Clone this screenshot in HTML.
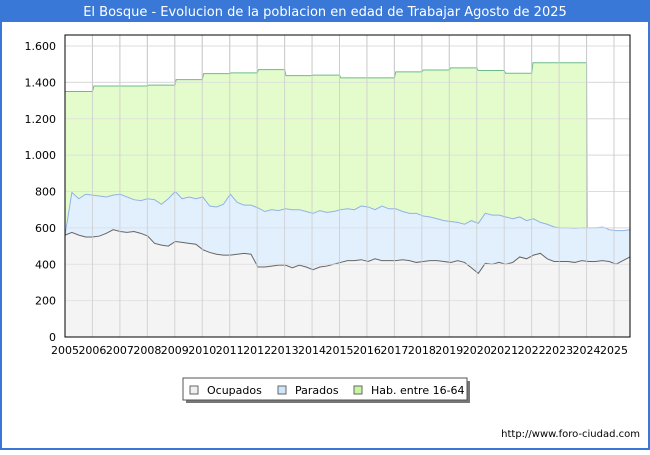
<!DOCTYPE html>
<html><head><meta charset="utf-8"><style>
body{margin:0;width:650px;height:450px;overflow:hidden;background:#fff;font-family:"Liberation Sans","DejaVu Sans",sans-serif}
svg text{font-family:"DejaVu Sans","Liberation Sans",sans-serif}
</style></head><body>
<svg id="c" width="650" height="450" xmlns="http://www.w3.org/2000/svg">
<rect x="0" y="0" width="650" height="450" fill="#3a78d8"/>
<rect x="2" y="22" width="646" height="426" fill="#fff"/>
<text x="325" y="16" fill="#fff" font-size="13" text-anchor="middle">El Bosque - Evolucion de la poblacion en edad de Trabajar Agosto de 2025</text>
<g id="grid"></g>
<g id="series"></g>
<g id="axes"></g>
<g>
<rect x="186" y="381" width="284" height="22" fill="#777"/>
<rect x="183" y="378" width="284" height="22" fill="#fff" stroke="#555"/>
<rect x="190" y="386" width="8" height="8" fill="#f0f0f0" stroke="#666"/>
<text x="207" y="394" font-size="11">Ocupados</text>
<rect x="278" y="386" width="8" height="8" fill="#cfe5fa" stroke="#666"/>
<text x="295" y="394" font-size="11">Parados</text>
<rect x="354" y="386" width="8" height="8" fill="#c8f5a0" stroke="#666"/>
<text x="371" y="394" font-size="11">Hab. entre 16-64</text>
</g>
<text x="640" y="437" font-size="10" text-anchor="end">http://www.foro-ciudad.com</text>
</svg>
<script>
const years=[2005,2006,2007,2008,2009,2010,2011,2012,2013,2014,2015,2016,2017,2018,2019,2020,2021,2022,2023,2024,2025];
const yTicks=[0,200,400,600,800,1000,1200,1400,1600];
const habYears=[2005,2006,2007,2008,2009,2010,2011,2012,2013,2014,2015,2016,2017,2018,2019,2020,2021,2022,2023];
const habValues=[1350,1380,1380,1385,1415,1448,1452,1470,1437,1440,1425,1425,1458,1468,1480,1465,1450,1508,1508];
const activos=[560,795,760,785,780,775,770,780,785,770,755,750,760,755,730,760,800,760,770,760,770,720,715,730,785,740,725,725,710,690,700,695,705,700,700,690,680,695,685,690,700,705,700,720,715,700,720,705,705,690,680,680,665,660,650,640,635,630,620,640,625,680,670,670,660,650,660,640,650,630,620,605,600,600,598,600,600,600,605,590,585,585,590];
const ocupados=[560,575,560,550,550,555,570,590,580,575,580,570,555,515,505,500,525,520,515,510,480,465,455,450,450,455,460,455,385,385,390,395,395,380,395,385,370,385,390,400,410,420,420,425,415,430,420,420,420,425,420,410,415,420,420,415,410,420,410,380,350,405,400,410,400,410,440,430,450,460,430,415,415,415,410,420,415,415,420,415,400,420,440];
const X0=65,X1=630,Y0=337,YT=35;
const xs=t=>X0+(t-2005)*27.45;
const ys=v=>Y0-v*291/1600;
const tq=i=>2005+i*0.25*(20.58/20.5);
const NS="http://www.w3.org/2000/svg";
function mk(tag,attrs,parent){const e=document.createElementNS(NS,tag);for(const k in attrs)e.setAttribute(k,attrs[k]);document.getElementById(parent).appendChild(e);return e;}
// grid
yTicks.forEach(v=>{const l=mk('line',{x1:X0,x2:X1,y1:ys(v),y2:ys(v),stroke:'#ddd'},'grid');


const t=mk('text',{x:56,y:ys(v)+4,'font-size':11,'text-anchor':'end'},'axes');t.textContent=v===0?'0':v.toLocaleString('de-DE');

});
years.forEach(y=>{const l=mk('line',{x1:xs(y),x2:xs(y),y1:YT,y2:Y0,stroke:'#ccc'},'grid');


const t=mk('text',{x:xs(y),y:354,'font-size':11,'text-anchor':'middle'},'axes');t.textContent=y;

});
// hab area
let hp=[];habYears.forEach((y,i)=>{hp.push([xs(y+(i?0.05:0)),ys(habValues[i])]);hp.push([xs(y+1),ys(habValues[i])]);});
const lastT=habYears[habYears.length-1]+1;
let hArea=hp.map(p=>p.join(',')).join(' ')+' '+xs(lastT)+','+Y0+' '+X0+','+Y0;
const ha=mk('polygon',{points:hArea,fill:'#e4fccc'},'series');


const hl=mk('polyline',{points:hp.map(p=>p.join(',')).join(' ')+' '+xs(lastT+0.02)+','+ys(600),fill:'none',stroke:'#6dbb8a'},'series');


// activos area
const ap=activos.map((v,i)=>[Math.min(xs(tq(i)),X1),ys(v)]);
const aa=mk('polygon',{points:ap.map(p=>p.join(',')).join(' ')+' '+ap[ap.length-1][0]+','+Y0+' '+X0+','+Y0,fill:'#e2f0fe'},'series');


const al=mk('polyline',{points:ap.map(p=>p.join(',')).join(' '),fill:'none',stroke:'#8fb2e8'},'series');


const op=ocupados.map((v,i)=>[Math.min(xs(tq(i)),X1),ys(v)]);
const oa=mk('polygon',{points:op.map(p=>p.join(',')).join(' ')+' '+op[op.length-1][0]+','+Y0+' '+X0+','+Y0,fill:'#f4f4f4'},'series');


const ol=mk('polyline',{points:op.map(p=>p.join(',')).join(' '),fill:'none',stroke:'#666'},'series');


// redraw grid lines above? reference shows grid over fills
yTicks.forEach(v=>{const l=mk('line',{x1:X0,x2:X1,y1:ys(v),y2:ys(v),stroke:'#ddd','stroke-opacity':0.8},'series');

});
years.forEach(y=>{const l=mk('line',{x1:xs(y),x2:xs(y),y1:YT,y2:Y0,stroke:'#ccc','stroke-opacity':0.8},'series');

});
const box=mk('rect',{x:X0,y:YT,width:X1-X0,height:Y0-YT,fill:'none',stroke:'#000'},'axes');


</script>
</body></html>
